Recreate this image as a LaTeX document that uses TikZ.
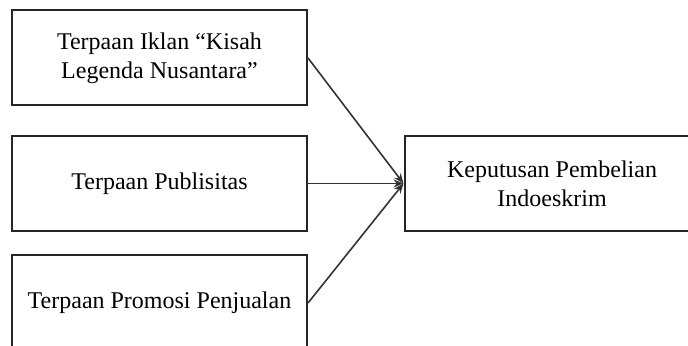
\documentclass[tikz,border=0pt]{standalone}
\usepackage{fontspec}
\setmainfont{Liberation Serif}
\usepackage{tikz}
\usetikzlibrary{arrows.meta}
\tikzset{
  konsep/.style={
    shape = rectangle,
    draw = black!85,
    line width = 1pt,
    minimum width = 147.5pt,
    minimum height = 47.5pt,
    align = center,
    font = \fontsize{12}{14.5}\selectfont
  },
  pengaruh/.style={
    draw = black!80,
    line width = 0.8pt,
    -{Stealth[length=5pt,width=4pt]}
  }
}
\begin{document}
\begin{tikzpicture}[x=0.5pt,y=-0.5pt]
                \clip (0,0) rectangle (688,346);

                \node[konsep] (iklan) at (159.5,58.0) {Terpaan Iklan “Kisah\\Legenda Nusantara”};
                \node[konsep] (publisitas) at (159.5,183.5) {Terpaan Publisitas};
                \node[konsep] (promosi) at (159.5,303.0) {Terpaan Promosi Penjualan};
                \node[konsep] (keputusan) at (552.0,183.5) {Keputusan Pembelian\\Indoeskrim};

                \draw[pengaruh] (iklan.east) -- (keputusan.west);
                \draw[pengaruh] (publisitas.east) -- (keputusan.west);
                \draw[pengaruh] (promosi.east) -- (keputusan.west);
\end{tikzpicture}
\end{document}
